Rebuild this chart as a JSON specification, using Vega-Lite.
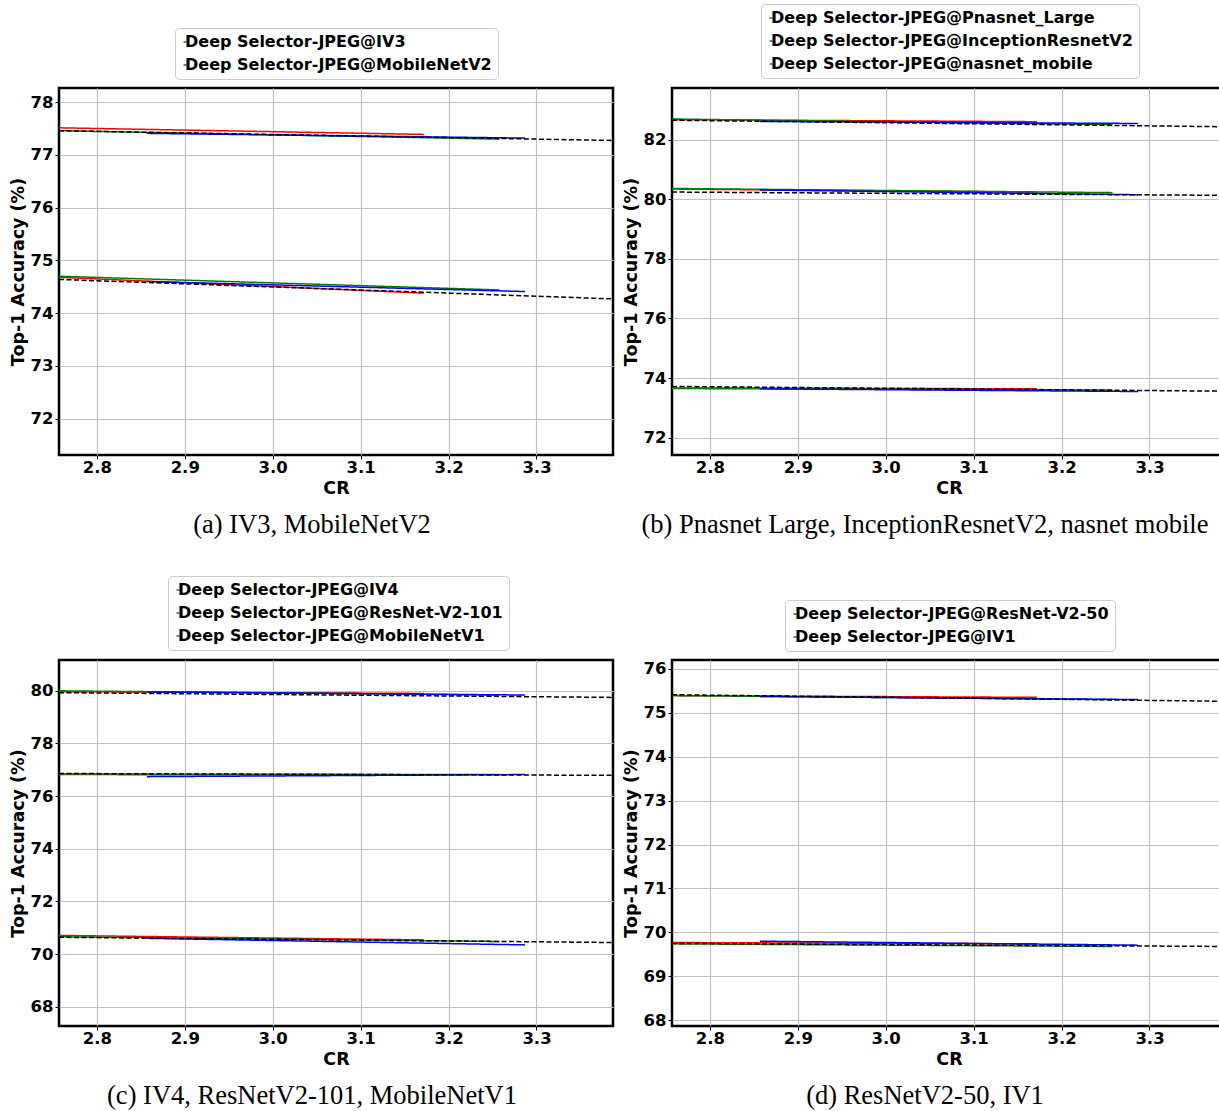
{
  "$schema": "https://vega.github.io/schema/vega-lite/v6.json",
  "background": "white",
  "padding": {"left": 7, "top": 2, "right": 0, "bottom": 0},
  "columns": 2,
  "align": "all",
  "spacing": {"row": 34, "column": 5},
  "data": {"values": [
    {"panel": "a", "model": "IV3", "series": "S1", "cr": 2.757, "acc": 77.515},
    {"panel": "a", "model": "IV3", "series": "S1", "cr": 3.172, "acc": 77.39},
    {"panel": "a", "model": "IV3", "series": "S2", "cr": 2.757, "acc": 77.46},
    {"panel": "a", "model": "IV3", "series": "S2", "cr": 3.258, "acc": 77.30},
    {"panel": "a", "model": "IV3", "series": "S3", "cr": 2.857, "acc": 77.41},
    {"panel": "a", "model": "IV3", "series": "S3", "cr": 3.287, "acc": 77.32},
    {"panel": "a", "model": "IV3", "series": "JPEG", "cr": 2.757, "acc": 77.46},
    {"panel": "a", "model": "IV3", "series": "JPEG", "cr": 3.387, "acc": 77.275},
    {"panel": "a", "model": "MobileNetV2", "series": "S1", "cr": 2.757, "acc": 74.68},
    {"panel": "a", "model": "MobileNetV2", "series": "S1", "cr": 3.172, "acc": 74.38},
    {"panel": "a", "model": "MobileNetV2", "series": "S2", "cr": 2.757, "acc": 74.70},
    {"panel": "a", "model": "MobileNetV2", "series": "S2", "cr": 3.258, "acc": 74.44},
    {"panel": "a", "model": "MobileNetV2", "series": "S3", "cr": 2.857, "acc": 74.60},
    {"panel": "a", "model": "MobileNetV2", "series": "S3", "cr": 3.287, "acc": 74.41},
    {"panel": "a", "model": "MobileNetV2", "series": "JPEG", "cr": 2.757, "acc": 74.64},
    {"panel": "a", "model": "MobileNetV2", "series": "JPEG", "cr": 3.387, "acc": 74.27},

    {"panel": "b", "model": "Pnasnet_Large", "series": "S1", "cr": 2.757, "acc": 82.67},
    {"panel": "b", "model": "Pnasnet_Large", "series": "S1", "cr": 3.172, "acc": 82.60},
    {"panel": "b", "model": "Pnasnet_Large", "series": "S2", "cr": 2.757, "acc": 82.69},
    {"panel": "b", "model": "Pnasnet_Large", "series": "S2", "cr": 3.258, "acc": 82.50},
    {"panel": "b", "model": "Pnasnet_Large", "series": "S3", "cr": 2.857, "acc": 82.61},
    {"panel": "b", "model": "Pnasnet_Large", "series": "S3", "cr": 3.287, "acc": 82.54},
    {"panel": "b", "model": "Pnasnet_Large", "series": "JPEG", "cr": 2.757, "acc": 82.65},
    {"panel": "b", "model": "Pnasnet_Large", "series": "JPEG", "cr": 3.387, "acc": 82.43},
    {"panel": "b", "model": "InceptionResnetV2", "series": "S1", "cr": 2.757, "acc": 80.34},
    {"panel": "b", "model": "InceptionResnetV2", "series": "S1", "cr": 3.172, "acc": 80.24},
    {"panel": "b", "model": "InceptionResnetV2", "series": "S2", "cr": 2.757, "acc": 80.36},
    {"panel": "b", "model": "InceptionResnetV2", "series": "S2", "cr": 3.258, "acc": 80.22},
    {"panel": "b", "model": "InceptionResnetV2", "series": "S3", "cr": 2.857, "acc": 80.31},
    {"panel": "b", "model": "InceptionResnetV2", "series": "S3", "cr": 3.287, "acc": 80.15},
    {"panel": "b", "model": "InceptionResnetV2", "series": "JPEG", "cr": 2.757, "acc": 80.24},
    {"panel": "b", "model": "InceptionResnetV2", "series": "JPEG", "cr": 3.387, "acc": 80.13},
    {"panel": "b", "model": "nasnet_mobile", "series": "S1", "cr": 2.757, "acc": 73.67},
    {"panel": "b", "model": "nasnet_mobile", "series": "S1", "cr": 3.172, "acc": 73.64},
    {"panel": "b", "model": "nasnet_mobile", "series": "S2", "cr": 2.757, "acc": 73.65},
    {"panel": "b", "model": "nasnet_mobile", "series": "S2", "cr": 3.258, "acc": 73.60},
    {"panel": "b", "model": "nasnet_mobile", "series": "S3", "cr": 2.857, "acc": 73.64},
    {"panel": "b", "model": "nasnet_mobile", "series": "S3", "cr": 3.287, "acc": 73.55},
    {"panel": "b", "model": "nasnet_mobile", "series": "JPEG", "cr": 2.757, "acc": 73.72},
    {"panel": "b", "model": "nasnet_mobile", "series": "JPEG", "cr": 3.387, "acc": 73.56},

    {"panel": "c", "model": "IV4", "series": "S1", "cr": 2.757, "acc": 79.97},
    {"panel": "c", "model": "IV4", "series": "S1", "cr": 3.172, "acc": 79.90},
    {"panel": "c", "model": "IV4", "series": "S2", "cr": 2.757, "acc": 80.00},
    {"panel": "c", "model": "IV4", "series": "S2", "cr": 3.258, "acc": 79.84},
    {"panel": "c", "model": "IV4", "series": "S3", "cr": 2.857, "acc": 79.96},
    {"panel": "c", "model": "IV4", "series": "S3", "cr": 3.287, "acc": 79.84},
    {"panel": "c", "model": "IV4", "series": "JPEG", "cr": 2.757, "acc": 79.93},
    {"panel": "c", "model": "IV4", "series": "JPEG", "cr": 3.387, "acc": 79.75},
    {"panel": "c", "model": "ResNet-V2-101", "series": "S1", "cr": 2.757, "acc": 76.82},
    {"panel": "c", "model": "ResNet-V2-101", "series": "S1", "cr": 3.172, "acc": 76.80},
    {"panel": "c", "model": "ResNet-V2-101", "series": "S2", "cr": 2.757, "acc": 76.84},
    {"panel": "c", "model": "ResNet-V2-101", "series": "S2", "cr": 3.258, "acc": 76.82},
    {"panel": "c", "model": "ResNet-V2-101", "series": "S3", "cr": 2.857, "acc": 76.74},
    {"panel": "c", "model": "ResNet-V2-101", "series": "S3", "cr": 3.287, "acc": 76.82},
    {"panel": "c", "model": "ResNet-V2-101", "series": "JPEG", "cr": 2.757, "acc": 76.86},
    {"panel": "c", "model": "ResNet-V2-101", "series": "JPEG", "cr": 3.387, "acc": 76.79},
    {"panel": "c", "model": "MobileNetV1", "series": "S1", "cr": 2.757, "acc": 70.71},
    {"panel": "c", "model": "MobileNetV1", "series": "S1", "cr": 3.172, "acc": 70.54},
    {"panel": "c", "model": "MobileNetV1", "series": "S2", "cr": 2.757, "acc": 70.66},
    {"panel": "c", "model": "MobileNetV1", "series": "S2", "cr": 3.258, "acc": 70.48},
    {"panel": "c", "model": "MobileNetV1", "series": "S3", "cr": 2.857, "acc": 70.60},
    {"panel": "c", "model": "MobileNetV1", "series": "S3", "cr": 3.287, "acc": 70.35},
    {"panel": "c", "model": "MobileNetV1", "series": "JPEG", "cr": 2.757, "acc": 70.64},
    {"panel": "c", "model": "MobileNetV1", "series": "JPEG", "cr": 3.387, "acc": 70.44},

    {"panel": "d", "model": "ResNet-V2-50", "series": "S1", "cr": 2.757, "acc": 75.39},
    {"panel": "d", "model": "ResNet-V2-50", "series": "S1", "cr": 3.172, "acc": 75.35},
    {"panel": "d", "model": "ResNet-V2-50", "series": "S2", "cr": 2.757, "acc": 75.39},
    {"panel": "d", "model": "ResNet-V2-50", "series": "S2", "cr": 3.258, "acc": 75.30},
    {"panel": "d", "model": "ResNet-V2-50", "series": "S3", "cr": 2.857, "acc": 75.37},
    {"panel": "d", "model": "ResNet-V2-50", "series": "S3", "cr": 3.287, "acc": 75.30},
    {"panel": "d", "model": "ResNet-V2-50", "series": "JPEG", "cr": 2.757, "acc": 75.41},
    {"panel": "d", "model": "ResNet-V2-50", "series": "JPEG", "cr": 3.387, "acc": 75.26},
    {"panel": "d", "model": "IV1", "series": "S1", "cr": 2.757, "acc": 69.77},
    {"panel": "d", "model": "IV1", "series": "S1", "cr": 3.172, "acc": 69.74},
    {"panel": "d", "model": "IV1", "series": "S2", "cr": 2.757, "acc": 69.74},
    {"panel": "d", "model": "IV1", "series": "S2", "cr": 3.258, "acc": 69.68},
    {"panel": "d", "model": "IV1", "series": "S3", "cr": 2.857, "acc": 69.80},
    {"panel": "d", "model": "IV1", "series": "S3", "cr": 3.287, "acc": 69.71},
    {"panel": "d", "model": "IV1", "series": "JPEG", "cr": 2.757, "acc": 69.75},
    {"panel": "d", "model": "IV1", "series": "JPEG", "cr": 3.387, "acc": 69.68}
  ]},
  "concat": [
    {
      "width": 554, "height": 367,
      "transform": [{"filter": "datum.panel == 'a'"}],
      "title": {"text": "(a) IV3, MobileNetV2"},
      "layer": [
        {
          "mark": {"type": "line", "clip": true, "strokeWidth": 1.5},
          "encoding": {
            "x": {"field": "cr", "type": "quantitative", "scale": {"domain": [2.757, 3.387], "nice": false, "zero": false}, "axis": {"title": "CR", "values": [2.8, 2.9, 3.0, 3.1, 3.2, 3.3], "format": ".1f"}},
            "y": {"field": "acc", "type": "quantitative", "scale": {"domain": [71.31, 78.27], "nice": false, "zero": false}, "axis": {"title": "Top-1 Accuracy (%)", "values": [72, 73, 74, 75, 76, 77, 78], "format": "d"}},
            "color": {"field": "series", "type": "nominal", "scale": {"domain": ["S1", "S2", "S3", "JPEG"], "range": ["#ff0000", "#008000", "#0000ff", "#000000"]}, "legend": null},
            "strokeDash": {"field": "series", "type": "nominal", "scale": {"domain": ["S1", "S2", "S3", "JPEG"], "range": [[1, 0], [1, 0], [1, 0], [5, 2.5]]}, "legend": null},
            "detail": {"field": "model"}
          }
        },
        {
          "transform": [{"filter": "datum.series == 'JPEG'"}],
          "mark": {"type": "point", "opacity": 0, "color": "black", "clip": true},
          "encoding": {
            "x": {"field": "cr", "type": "quantitative"},
            "y": {"field": "acc", "type": "quantitative"},
            "shape": {"field": "model", "type": "nominal", "scale": {"domain": ["IV3", "MobileNetV2"], "range": ["stroke", "stroke"]}, "legend": {"legendX": 116, "legendY": -60, "labelExpr": "'Deep Selector-JPEG@' + datum.label"}}
          }
        }
      ]
    },
    {
      "width": 554, "height": 367,
      "transform": [{"filter": "datum.panel == 'b'"}],
      "title": {"text": "(b) Pnasnet Large, InceptionResnetV2, nasnet mobile"},
      "layer": [
        {
          "mark": {"type": "line", "clip": true, "strokeWidth": 1.5},
          "encoding": {
            "x": {"field": "cr", "type": "quantitative", "scale": {"domain": [2.757, 3.387], "nice": false, "zero": false}, "axis": {"title": "CR", "values": [2.8, 2.9, 3.0, 3.1, 3.2, 3.3], "format": ".1f"}},
            "y": {"field": "acc", "type": "quantitative", "scale": {"domain": [71.42, 83.73], "nice": false, "zero": false}, "axis": {"title": "Top-1 Accuracy (%)", "values": [72, 74, 76, 78, 80, 82], "format": "d"}},
            "color": {"field": "series", "type": "nominal", "scale": {"domain": ["S1", "S2", "S3", "JPEG"], "range": ["#ff0000", "#008000", "#0000ff", "#000000"]}, "legend": null},
            "strokeDash": {"field": "series", "type": "nominal", "scale": {"domain": ["S1", "S2", "S3", "JPEG"], "range": [[1, 0], [1, 0], [1, 0], [5, 2.5]]}, "legend": null},
            "detail": {"field": "model"}
          }
        },
        {
          "transform": [{"filter": "datum.series == 'JPEG'"}],
          "mark": {"type": "point", "opacity": 0, "color": "black", "clip": true},
          "encoding": {
            "x": {"field": "cr", "type": "quantitative"},
            "y": {"field": "acc", "type": "quantitative"},
            "shape": {"field": "model", "type": "nominal", "scale": {"domain": ["Pnasnet_Large", "InceptionResnetV2", "nasnet_mobile"], "range": ["stroke", "stroke", "stroke"]}, "legend": {"legendX": 89, "legendY": -84, "labelExpr": "'Deep Selector-JPEG@' + datum.label"}}
          }
        }
      ]
    },
    {
      "width": 554, "height": 366,
      "transform": [{"filter": "datum.panel == 'c'"}],
      "title": {"text": "(c) IV4, ResNetV2-101, MobileNetV1"},
      "layer": [
        {
          "mark": {"type": "line", "clip": true, "strokeWidth": 1.5},
          "encoding": {
            "x": {"field": "cr", "type": "quantitative", "scale": {"domain": [2.757, 3.387], "nice": false, "zero": false}, "axis": {"title": "CR", "values": [2.8, 2.9, 3.0, 3.1, 3.2, 3.3], "format": ".1f"}},
            "y": {"field": "acc", "type": "quantitative", "scale": {"domain": [67.27, 81.17], "nice": false, "zero": false}, "axis": {"title": "Top-1 Accuracy (%)", "values": [68, 70, 72, 74, 76, 78, 80], "format": "d"}},
            "color": {"field": "series", "type": "nominal", "scale": {"domain": ["S1", "S2", "S3", "JPEG"], "range": ["#ff0000", "#008000", "#0000ff", "#000000"]}, "legend": null},
            "strokeDash": {"field": "series", "type": "nominal", "scale": {"domain": ["S1", "S2", "S3", "JPEG"], "range": [[1, 0], [1, 0], [1, 0], [5, 2.5]]}, "legend": null},
            "detail": {"field": "model"}
          }
        },
        {
          "transform": [{"filter": "datum.series == 'JPEG'"}],
          "mark": {"type": "point", "opacity": 0, "color": "black", "clip": true},
          "encoding": {
            "x": {"field": "cr", "type": "quantitative"},
            "y": {"field": "acc", "type": "quantitative"},
            "shape": {"field": "model", "type": "nominal", "scale": {"domain": ["IV4", "ResNet-V2-101", "MobileNetV1"], "range": ["stroke", "stroke", "stroke"]}, "legend": {"legendX": 109, "legendY": -84, "labelExpr": "'Deep Selector-JPEG@' + datum.label"}}
          }
        }
      ]
    },
    {
      "width": 554, "height": 366,
      "transform": [{"filter": "datum.panel == 'd'"}],
      "title": {"text": "(d) ResNetV2-50, IV1"},
      "layer": [
        {
          "mark": {"type": "line", "clip": true, "strokeWidth": 1.5},
          "encoding": {
            "x": {"field": "cr", "type": "quantitative", "scale": {"domain": [2.757, 3.387], "nice": false, "zero": false}, "axis": {"title": "CR", "values": [2.8, 2.9, 3.0, 3.1, 3.2, 3.3], "format": ".1f"}},
            "y": {"field": "acc", "type": "quantitative", "scale": {"domain": [67.87, 76.2], "nice": false, "zero": false}, "axis": {"title": "Top-1 Accuracy (%)", "values": [68, 69, 70, 71, 72, 73, 74, 75, 76], "format": "d"}},
            "color": {"field": "series", "type": "nominal", "scale": {"domain": ["S1", "S2", "S3", "JPEG"], "range": ["#ff0000", "#008000", "#0000ff", "#000000"]}, "legend": null},
            "strokeDash": {"field": "series", "type": "nominal", "scale": {"domain": ["S1", "S2", "S3", "JPEG"], "range": [[1, 0], [1, 0], [1, 0], [5, 2.5]]}, "legend": null},
            "detail": {"field": "model"}
          }
        },
        {
          "transform": [{"filter": "datum.series == 'JPEG'"}],
          "mark": {"type": "point", "opacity": 0, "color": "black", "clip": true},
          "encoding": {
            "x": {"field": "cr", "type": "quantitative"},
            "y": {"field": "acc", "type": "quantitative"},
            "shape": {"field": "model", "type": "nominal", "scale": {"domain": ["ResNet-V2-50", "IV1"], "range": ["stroke", "stroke"]}, "legend": {"legendX": 113, "legendY": -60, "labelExpr": "'Deep Selector-JPEG@' + datum.label"}}
          }
        }
      ]
    }
  ],
  "resolve": {"scale": {"shape": "independent"}, "legend": {"shape": "independent"}},
  "config": {
    "view": {"stroke": "black", "strokeWidth": 2.5},
    "axis": {
      "labelFont": "DejaVu Sans", "labelFontWeight": "bold", "labelFontSize": 16.5, "labelColor": "black",
      "titleFont": "DejaVu Sans", "titleFontWeight": "bold", "titleFontSize": 17.5, "titleColor": "black",
      "domain": false, "tickColor": "black", "tickSize": 4, "tickWidth": 1,
      "gridColor": "#c0c0c0", "gridWidth": 1.2, "labelPadding": 2, "titlePadding": 3,
      "labelFlush": false, "labelOverlap": false
    },
    "axisX": {"titlePadding": 4, "labelPadding": 0},
    "legend": {
      "orient": "none", "direction": "vertical", "title": null,
      "labelFont": "DejaVu Sans", "labelFontWeight": "bold", "labelFontSize": 16, "labelColor": "black", "labelLimit": 600,
      "symbolType": "stroke", "symbolSize": 9, "symbolStrokeColor": "black", "symbolStrokeWidth": 1, "symbolOpacity": 1,
      "strokeColor": "#cccccc", "fillColor": "white", "cornerRadius": 4, "padding": 6, "rowPadding": 7, "labelOffset": -8, "symbolOffset": -4
    },
    "title": {"orient": "bottom", "font": "Liberation Serif", "fontSize": 26.5, "fontWeight": "normal", "color": "black", "offset": 15, "dx": -24}
  }
}
